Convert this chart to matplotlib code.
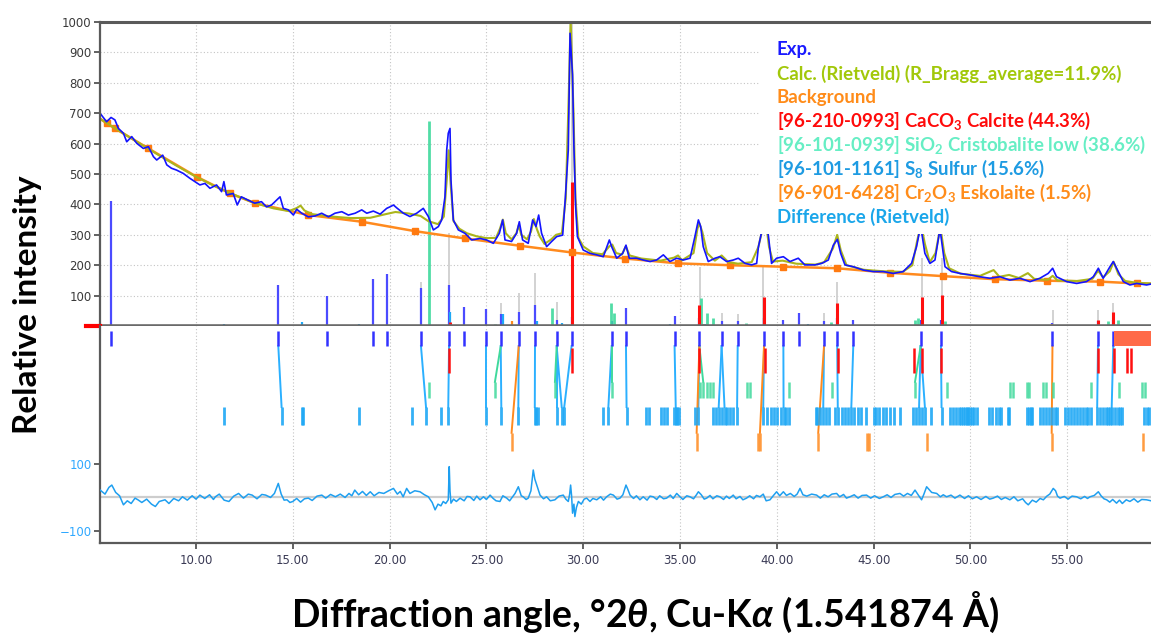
import numpy as np
import matplotlib.pyplot as plt
from matplotlib.patches import Rectangle

plt.rcParams['font.family'] = ['DejaVu Sans']
plt.rcParams['mathtext.fontset'] = 'custom'
plt.rcParams['mathtext.rm'] = 'Lato:bold'
plt.rcParams['mathtext.it'] = 'Lato:italic:bold'
plt.rcParams['mathtext.bf'] = 'Lato:bold'
LABEL_FONT = ['Lato', 'DejaVu Sans']

exp_2theta = [5.04, 5.38, 5.61, 5.81, 5.99, 6.25, 6.42, 6.68, 6.94, 7.28, 7.54, 7.80, 7.97,
              8.28, 8.49, 8.73, 8.99, 9.34, 9.68, 9.94, 10.20, 10.46, 10.72, 11.06, 11.32,
              11.44, 11.57, 11.92, 12.13, 12.34, 12.69, 13.03, 13.38, 13.64, 13.90, 14.16,
              14.34, 14.51, 14.77, 15.03, 15.20, 15.46, 15.80, 16.15, 16.49, 16.84, 17.18,
              17.53, 17.87, 18.22, 18.56, 18.82, 19.16, 19.51, 19.85, 20.02, 20.20, 20.36,
              20.71, 21.05, 21.40, 21.74, 22.00, 22.26, 22.52, 22.69, 22.86, 22.95, 23.03,
              23.12, 23.17, 23.29, 23.55, 23.89, 24.24, 24.67, 25.01, 25.36, 25.67, 25.84,
              25.96, 26.30, 26.56, 26.70, 26.87, 27.16, 27.39, 27.56, 27.70, 27.85, 28.11,
              28.37, 28.63, 28.94, 29.08, 29.23, 29.32, 29.45, 29.52, 29.61, 29.70, 30.00,
              30.35, 30.70, 31.04, 31.35, 31.47, 31.73, 32.04, 32.21, 32.38, 32.76, 33.10,
              33.45, 33.79, 34.14, 34.48, 34.83, 35.17, 35.52, 35.77, 35.95, 36.07, 36.20,
              36.46, 36.81, 37.06, 37.41, 37.75, 38.01, 38.36, 38.70, 38.96, 39.05, 39.22,
              39.39, 39.56, 39.73, 39.99, 40.34, 40.68, 41.11, 41.45, 41.97, 42.32, 42.66,
              42.92, 43.13, 43.30, 43.52, 43.95, 44.47, 44.98, 45.50, 46.02, 46.53, 46.96,
              47.22, 47.43, 47.65, 47.91, 48.17, 48.43, 48.69, 49.03, 49.46, 49.98, 50.49,
              51.01, 51.53, 52.04, 52.56, 53.08, 53.59, 54.02, 54.25, 54.45, 54.97, 55.49,
              56.00, 56.35, 56.61, 56.86, 57.21, 57.38, 57.64, 57.90, 58.24, 58.59, 59.10,
              59.33]
exp_counts = [700, 672, 686, 678, 650, 634, 606, 623, 601, 584, 590, 557, 546,
              562, 530, 519, 513, 502, 486, 475, 464, 469, 453, 464, 442,
              475, 431, 436, 398, 425, 414, 404, 409, 392, 398, 414,
              425, 387, 382, 365, 384, 371, 359, 362, 371, 359, 371,
              376, 365, 371, 382, 371, 378, 368, 387, 392, 398, 389,
              371, 360, 371, 387, 360, 316, 327, 349, 425, 579, 634,
              650, 480, 349, 316, 305, 283, 288, 283, 272, 305, 349,
              283, 278, 305, 343, 283, 272, 349, 327, 365, 305, 261,
              278, 294, 299, 425, 579, 963, 826, 590, 392, 294, 250,
              239, 234, 228, 283, 261, 223, 239, 266, 223, 223, 217,
              212, 217, 234, 212, 223, 217, 223, 294, 349, 327, 261,
              212, 223, 228, 212, 217, 223, 206, 201, 206, 260, 310,
              335, 300, 206, 223, 228, 212, 223, 201, 201, 206, 217,
              266, 285, 239, 201, 195, 184, 179, 179, 173, 179, 206,
              261, 330, 239, 206, 217, 320, 195, 179, 173, 168, 162,
              157, 162, 151, 157, 146, 157, 173, 190, 162, 146, 140,
              146, 162, 190, 157, 195, 212, 179, 146, 135, 140, 135,
              138]

calc_2theta = [5.04, 6.0, 7.0, 8.0, 9.0, 10.0, 11.0, 12.0, 13.0, 14.0, 14.8, 15.2, 15.4, 15.6,
               16.0, 17.0, 18.0, 19.0, 19.8, 20.3, 21.0, 21.6, 22.0, 22.5, 22.8, 22.95, 23.05,
               23.15, 23.3, 23.6, 24.0, 24.5, 25.0, 25.5, 25.7, 25.85, 26.0, 26.3, 26.55, 26.67,
               26.8, 27.1, 27.3, 27.45, 27.6, 27.75, 28.0, 28.35, 28.6, 28.9, 29.1, 29.25, 29.35,
               29.5, 29.6, 29.75, 30.0, 30.5, 31.0, 31.35, 31.5, 31.7, 32.0, 32.2, 32.4, 33.0,
               34.0, 34.7, 34.9, 35.1, 35.7, 35.9, 36.0, 36.15, 36.4, 36.8, 37.15, 37.5, 38.0,
               38.7, 39.05, 39.3, 39.45, 39.6, 39.8, 40.3, 41.0, 42.0, 42.45, 42.9, 43.12, 43.3,
               43.6, 44.5, 45.5, 46.5, 47.0, 47.25, 47.45, 47.65, 47.9, 48.2, 48.45, 48.65, 48.9,
               49.5, 50.5, 51.2, 51.5, 52.0, 52.5, 52.97, 53.3, 54.0, 54.25, 54.5, 55.5, 56.3,
               56.6, 56.85, 57.2, 57.4, 57.65, 58.0, 58.6, 59.33]
calc_counts = [682, 643, 604, 565, 527, 491, 459, 431, 405, 387, 378, 388, 396, 380,
               368, 360, 355, 356, 368, 375, 370, 362, 345, 335, 360, 480, 578,
               470, 345, 320, 305, 295, 289, 290, 320, 350, 305, 285, 305, 332,
               300, 285, 310, 352, 320, 295, 270, 285, 300, 305, 420, 750, 1010,
               700, 420, 290, 262, 240, 236, 262, 268, 240, 235, 262, 232, 222,
               215, 225, 232, 216, 240, 320, 338, 310, 240, 215, 232, 210, 205,
               210, 260, 330, 335, 260, 212, 215, 205, 202, 210, 255, 300, 250,
               200, 185, 180, 178, 200, 280, 335, 270, 210, 240, 325, 240, 190,
               172, 165, 184, 162, 168, 158, 174, 155, 152, 165, 150, 148, 155,
               182, 160, 180, 211, 170, 148, 142, 140]

# background anchor points
bg_2theta = [5.04, 5.38, 5.81, 7.54, 10.03, 11.76, 13.05, 15.80, 18.56, 21.31, 23.89, 26.73,
             29.40, 32.16, 34.91, 37.58, 40.33, 43.09, 45.85, 48.60, 51.27, 53.94, 56.69,
             58.59, 59.33]
bg_counts = [682, 667, 650, 584, 491, 436, 404, 365, 343, 312, 288, 264,
             242, 222, 206, 200, 195, 190, 175, 164, 154, 149, 146, 140, 139]
bg_marker_idx = list(range(1, 24))

# difference (Rietveld) curve
diff_2theta = [5.05, 5.3, 5.5, 5.65, 5.85, 6.05, 6.25, 6.45, 6.65, 6.85, 7.0, 7.2, 7.45, 7.7,
               7.9, 8.1, 8.4, 8.6, 8.85, 9.1, 9.3, 9.55, 9.8, 10.0, 10.2, 10.45, 10.7, 10.9,
               11.0, 11.2, 11.45, 11.7, 11.95, 12.2, 12.45, 12.7, 12.9, 13.15, 13.4, 13.6,
               13.85, 14.05, 14.25, 14.4, 14.55, 14.7, 14.85, 15.0, 15.2, 15.4, 15.6, 15.8,
               16.0, 16.25, 16.5, 16.7, 16.95, 17.2, 17.45, 17.7, 17.9, 18.05, 18.2, 18.4,
               18.6, 18.8, 19.0, 19.2, 19.45, 19.7, 19.95, 20.2, 20.4, 20.55, 20.7, 20.88,
               21.05, 21.3, 21.57, 21.8, 22.0, 22.2, 22.35, 22.5, 22.65, 22.77, 22.9, 23.03,
               23.08, 23.12, 23.17, 23.3, 23.45, 23.64, 23.85, 24.0, 24.15, 24.35, 24.5, 24.67,
               24.85, 25.0, 25.19, 25.35, 25.5, 25.7, 25.85, 26.05, 26.2, 26.35, 26.48, 26.65,
               26.8, 26.9, 27.05, 27.16, 27.3, 27.42, 27.5, 27.6, 27.77, 27.95, 28.11, 28.3,
               28.54, 28.75, 28.97, 29.1, 29.23, 29.3, 29.35, 29.4, 29.45, 29.52, 29.57, 29.65,
               29.75, 29.9, 30.05, 30.18, 30.35, 30.5, 30.7, 30.9, 31.05, 31.21, 31.4, 31.56,
               31.75, 31.9, 32.05, 32.21, 32.3, 32.42, 32.6, 32.75, 32.93, 33.1, 33.3, 33.45,
               33.62, 33.8, 33.95, 34.15, 34.31, 34.5, 34.65, 34.83, 35.0, 35.15, 35.35, 35.52,
               35.7, 35.85, 35.95, 36.1, 36.25, 36.38, 36.55, 36.7, 36.9, 37.06, 37.25, 37.4,
               37.55, 37.75, 37.9, 38.1, 38.25, 38.44, 38.6, 38.8, 38.95, 39.13, 39.3, 39.45,
               39.65, 39.8, 39.99, 40.15, 40.34, 40.5, 40.7, 40.9, 41.05, 41.2, 41.35, 41.55,
               41.8, 42.06, 42.25, 42.45, 42.65, 42.85, 43.09, 43.25, 43.45, 43.6, 43.78, 44.0,
               44.2, 44.4, 44.64, 44.85, 45.05, 45.3, 45.5, 45.7, 45.9, 46.1, 46.36, 46.55,
               46.75, 46.95, 47.14, 47.3, 47.48, 47.6, 47.74, 47.85, 48.0, 48.26, 48.45, 48.6,
               48.77, 49.0, 49.2, 49.46, 49.7, 49.9, 50.1, 50.32, 50.55, 50.8, 51.0, 51.18,
               51.4, 51.6, 51.8, 52.04, 52.25, 52.45, 52.7, 52.85, 52.99, 53.2, 53.4, 53.6,
               53.77, 53.95, 54.1, 54.28, 54.4, 54.5, 54.63, 54.85, 55.05, 55.25, 55.49, 55.7,
               55.9, 56.05, 56.18, 56.4, 56.61, 56.75, 56.9, 57.04, 57.2, 57.35, 57.55, 57.7,
               57.85, 58.05, 58.24, 58.45, 58.65, 58.85, 59.1, 59.33]
diff_counts = [22, 10, 30, 37, 15, 5, -22, -10, -18, -2, -7, -15, -5, -20,
               -27, -12, -7, -18, -3, -10, 2, -8, 5, -5, 7, -3, 8, -6,
               2, 10, -8, -12, 4, 12, -2, 10, 7, -4, 9, 7,
               0, 12, 42, 10, -8, -7, -15, -12, -3, -14, -4, -2,
               -9, 4, 7, -2, 9, 2, 10, 0, 12, 5, 22, 8,
               18, 6, 17, 5, 15, 12, 20, 27, 10, 18, 2, 27,
               12, 20, 17, 8, 2, -15, -37, -20, -25, -12, -18, -7,
               92, 20, -17, -5, -12, -2, -10, 3, 2, -9, 4, -7,
               2, -6, 7, -3, -10, -12, 5, -2, -10, 2, 12, 32,
               5, 2, -6, -2, 20, 82, 55, 37, 7, -4, 2, -10,
               -7, 4, 7, -5, -12, 10, 37, 5, -47, -20, -57, -30,
               -12, -20, -5, -2, -12, -3, -7, 2, -8, 2, 10, 7,
               -5, -2, 8, 37, 25, 7, -3, 5, -7, 2, -8, 4,
               2, -6, 5, -4, -2, 7, -3, 12, 2, -6, 5, 2,
               -4, 8, 17, 8, -5, -2, 6, -4, 5, 2, -6, 4,
               -3, 7, -4, 3, -7, -2, 5, -4, 6, 2, 10, -10,
               -7, 4, 17, 5, 17, 6, 12, 3, 10, 27, 8, 4,
               10, 7, -2, 8, 2, 10, 12, 2, 9, -2, 2, 8,
               -2, 6, 7, -2, 5, -3, 2, 8, 0, 9, 12, 4,
               12, 6, 22, 8, -7, 10, 32, 25, 15, 12, 2, 8,
               2, 7, -2, 7, -3, 5, -4, 2, -6, 3, -5, -2,
               4, -6, 0, -7, 2, -10, -4, -15, -22, -8, -14, -3,
               -7, 4, 10, 27, 20, 4, -2, 3, -5, 4, 2, -4,
               3, -3, 2, 6, 17, 5, -4, -7, -14, -6, -17, -8,
               -18, -7, -12, -4, -14, -6, -7, -10]

# ─── PEAK STICKS (upper pane) ─────────────────────────────
peak_pos = [5.61, 14.25, 16.78, 19.12, 19.85, 21.62, 23.07, 23.84, 24.98, 25.74, 26.67, 27.51,
            28.63, 29.40, 31.47, 32.21, 34.72, 36.00, 37.15, 37.98, 39.34, 40.34, 41.16, 42.44,
            43.12, 43.95, 47.43, 48.48, 54.24, 56.59, 57.38]
peak_h = [410, 135, 99, 153, 171, 124, 135, 64, 55, 40, 47, 69,
          20, 30, 15, 58, 33, 25, 15, 18, 25, 20, 42, 15,
          25, 20, 20, 20, 10, 15, 20]

calc_stick_pos = [21.62, 23.07, 25.74, 26.67, 27.51, 28.63, 29.40, 36.03, 37.15, 37.98, 39.30,
                  42.44, 43.12, 47.48, 48.51, 54.28, 56.59, 57.38]
calc_stick_h = [146, 305, 75, 107, 173, 80, 1000, 195, 42, 38, 195,
                42, 146, 223, 223, 53, 53, 75]

calcite_stick_pos = [23.12, 29.40, 36.00, 39.34, 43.12, 47.48, 48.51, 56.60, 57.38]
calcite_stick_h = [14, 475, 69, 96, 75, 96, 102, 20, 47]

cristo_stick_pos = [22.05, 25.44, 28.40, 31.45, 31.60, 36.10, 36.40, 36.70, 38.40, 42.80,
                    47.14, 47.30, 48.70, 57.10, 57.60]
cristo_stick_h = [675, 8, 58, 75, 42, 91, 42, 25, 10, 12, 20, 25, 15, 15, 20]

sulfur_stick_pos = [11.44, 15.50, 18.42, 23.10, 25.85, 27.60, 28.90, 30.90, 34.50, 36.30, 41.60]
sulfur_stick_h = [5, 12, 5, 45, 40, 15, 10, 4, 5, 8, 5]

eskol_stick_pos = [26.30, 36.20, 54.20]
eskol_stick_h = [15, 8, 5]

# ─── PHASE MARKER ROWS (lower pane) ───────────────────────
calcite_marks = [23.07, 29.40, 36.00, 39.40, 43.15, 47.10, 47.50, 48.50, 56.60, 57.40, 58.10, 58.30]
cristo_marks = [22.05, 25.44, 28.54, 31.47, 36.03, 36.20, 36.37, 36.54, 36.70, 38.46, 38.60,
                40.63, 42.83, 47.14, 48.77, 52.04, 52.20, 52.90, 53.05, 53.76, 53.90, 54.28,
                56.25, 57.70, 58.85, 59.00]
sulfur_marks = [11.44, 14.42, 15.45, 15.53, 18.42, 21.14, 21.88, 22.64, 23.03, 24.98, 25.77,
                26.65, 27.50, 27.58, 27.66, 28.63, 28.89, 29.02, 31.00, 31.30, 32.24, 33.24,
                33.40, 34.00, 34.15, 34.33, 34.70, 34.78, 34.86, 34.94, 35.80, 35.95, 36.70,
                36.85, 37.00, 37.15, 37.30, 37.45, 37.60, 37.75, 37.95, 39.30, 39.50, 39.70,
                39.85, 40.00, 40.20, 40.35, 40.50, 40.65, 42.00, 42.10, 42.25, 42.40, 42.55,
                42.70, 43.00, 43.15, 43.35, 43.50, 43.70, 43.85, 44.00, 44.20, 44.35, 44.60,
                45.00, 45.15, 45.30, 45.50, 45.65, 45.85, 46.05, 46.35, 47.05, 47.20, 47.35,
                47.50, 47.65, 47.95, 48.51, 48.95, 49.10, 49.25, 49.40, 49.50, 49.60, 49.70,
                49.80, 49.90, 50.00, 50.10, 50.20, 50.35, 50.95, 51.10, 51.30, 51.50, 51.60,
                51.95, 52.00, 52.95, 53.05, 53.15, 53.20, 53.60, 53.75, 53.90, 54.05, 54.20,
                54.35, 54.45, 54.90, 55.05, 55.20, 55.35, 55.50, 55.65, 55.80, 55.95, 56.10,
                56.25, 56.55, 56.70, 56.85, 57.00, 57.10, 57.20, 57.30, 57.45, 57.60, 57.75,
                57.85, 58.95, 59.10, 59.25]
eskol_marks = [26.30, 35.86, 39.04, 39.13, 42.14, 44.64, 44.77, 47.74, 54.20, 58.90]

# experimental peak -> phase reflection links
sulfur_links = [(14.25, 14.42), (21.62, 21.88), (23.07, 23.03), (24.98, 24.98), (25.74, 25.77),
                (26.67, 26.65), (27.51, 27.50), (28.63, 28.63), (28.63, 28.89), (29.40, 29.02),
                (31.47, 31.30), (32.21, 32.24), (34.72, 34.78), (36.00, 35.95), (37.15, 37.00),
                (37.15, 37.30), (37.98, 37.95), (39.34, 39.30), (40.34, 40.35), (42.44, 42.40),
                (43.12, 43.15), (43.95, 43.85), (47.43, 47.35), (47.43, 47.65), (48.48, 48.51),
                (56.59, 56.55), (57.38, 57.30)]
cristo_links = [(25.74, 25.44), (28.63, 28.54), (31.47, 31.47), (36.00, 36.20), (47.43, 47.14)]
eskol_links = [(26.67, 26.30), (36.00, 35.86), (39.34, 39.13), (42.44, 42.14), (54.24, 54.20)]

legend_lines = [
    ('Exp.', '#1a1aff'),
    ('Calc. (Rietveld) (R_Bragg_average=11.9%)', '#a2c80a'),
    ('Background', '#ff8c1a'),
    ('[96-210-0993] CaCO$_3$ Calcite (44.3%)', '#ff0a0a'),
    ('[96-101-0939] SiO$_2$ Cristobalite low (38.6%)', '#66eec4'),
    ('[96-101-1161] S$_8$ Sulfur (15.6%)', '#1e9be2'),
    ('[96-901-6428] Cr$_2$O$_3$ Eskolaite (1.5%)', '#ff8c1a'),
    ('Difference (Rietveld)', '#1aa6ea'),
]

XMIN, XMAX = 5.04, 59.33
C_EXP = '#1414ff'
C_CALC = '#abb51c'
C_BG = '#ff8a1e'
C_RED = '#ff1010'
C_CRIS = '#3fd99c'
C_SULF = '#1ea8f5'
C_ESK = '#ff8a1e'
GRID = dict(color='#c4c4c4', lw=0.8, ls=(0, (1, 2)))

# ─── FIGURE ───────────────────────────────────────────────
fig = plt.figure(figsize=(11.51, 6.43), dpi=100)
ax = fig.add_axes([0.08688, 0.49300, 0.91312, 0.47278])
axd = fig.add_axes([0.08688, 0.15552, 0.91312, 0.33748], sharex=ax)

# upper pane
ax.set_xlim(XMIN, XMAX)
ax.set_ylim(0, 1000)
ax.set_xticks(np.arange(10, 60, 5))
ax.set_yticks(np.arange(100, 1001, 100))
ax.set_axisbelow(True)
ax.grid(True, **GRID)
ax.tick_params(axis='x', length=0, labelbottom=False)
ax.tick_params(axis='y', length=4, width=1.3, color='#555555', pad=2,
               labelsize=8.5, labelcolor='#3a3a3a')
ax.spines['right'].set_visible(False)
ax.spines['top'].set_linewidth(2.2)
ax.spines['top'].set_color('#5a5a5a')
ax.spines['left'].set_linewidth(1.6)
ax.spines['left'].set_color('#5a5a5a')
ax.spines['bottom'].set_linewidth(2.6)
ax.spines['bottom'].set_color('#6a6a6a')
for s in ax.spines.values():
    s.set_zorder(8)

ax.vlines(calc_stick_pos, 0, calc_stick_h, colors='#cfcfcf', lw=1.3, zorder=1.5)
ax.vlines(peak_pos, 0, peak_h, colors='#4b4bff', lw=1.6, zorder=2)
ax.vlines(sulfur_stick_pos, 0, sulfur_stick_h, colors=C_SULF, lw=1.6, zorder=2)
ax.vlines(eskol_stick_pos, 0, eskol_stick_h, colors=C_ESK, lw=1.6, zorder=2)
ax.vlines(cristo_stick_pos, 0, cristo_stick_h, colors=C_CRIS, lw=2.0, zorder=2, alpha=0.9)
ax.vlines(calcite_stick_pos, 0, calcite_stick_h, colors=C_RED, lw=2.2, zorder=2.2)

ax.plot(bg_2theta, bg_counts, color=C_BG, lw=1.8, zorder=3)
ax.plot([bg_2theta[i] for i in bg_marker_idx], [bg_counts[i] for i in bg_marker_idx],
        ls='none', marker='s', ms=5, color='#ff7a10', zorder=3.1)
ax.plot(calc_2theta, calc_counts, color=C_CALC, lw=1.5, zorder=3.2)
ax.plot(exp_2theta, exp_counts, color=C_EXP, lw=1.2, zorder=3.4)

# red zero marker left of the frame
ax.plot([-0.013, 0.0], [0, 0], transform=ax.get_yaxis_transform(), color='#ff0000',
        lw=3, clip_on=False, zorder=9)

# legend block (white panel covering grid and peak tops)
ax.add_patch(Rectangle((39.13, 303), XMAX - 39.13, 697, facecolor='white',
                       edgecolor='none', zorder=4))
for i, (txt, col) in enumerate(legend_lines):
    ax.text(40.0, 908 - i * 78.3, txt, color=col, fontsize=13.4, fontweight='bold',
            family=LABEL_FONT, va='center', ha='left', zorder=6)

# lower pane
axd.set_ylim(-136, 512)
axd.set_yticks([100, -100])
axd.set_xticks(np.arange(10, 60, 5))
axd.set_xticklabels([f'{v:.2f}' for v in np.arange(10, 60, 5)])
axd.grid(True, axis='x', **GRID)
axd.set_axisbelow(True)
axd.tick_params(axis='y', length=4, width=1.3, color='#555555', pad=2,
                labelsize=8.5, labelcolor='#2fa8ff')
axd.tick_params(axis='x', length=4, width=1.3, color='#555555', pad=4,
                labelsize=8.5, labelcolor='#3a3a55')
axd.spines['top'].set_visible(False)
axd.spines['right'].set_visible(False)
axd.spines['left'].set_linewidth(1.6)
axd.spines['left'].set_color('#5a5a5a')
axd.spines['bottom'].set_linewidth(1.6)
axd.spines['bottom'].set_color('#5a5a5a')

ROW_EXP = (452, 497)
ROW_CAL = (372, 446)
ROW_CRI = (297, 345)
ROW_SUL = (216, 270)
ROW_ESK = (139, 193)

for (p, q) in sulfur_links:
    axd.plot([p, q], [ROW_EXP[0], ROW_SUL[1]], color='#2bb0ff', lw=1.4, zorder=2)
for (p, q) in cristo_links:
    axd.plot([p, q], [ROW_EXP[0], ROW_CRI[1]], color=C_CRIS, lw=1.4, zorder=2.1)
for (p, q) in eskol_links:
    axd.plot([p, q], [ROW_EXP[0], ROW_ESK[1]], color=C_ESK, lw=1.4, zorder=2.2)

axd.vlines(peak_pos, *ROW_EXP, colors='#3232ff', lw=1.8, zorder=3)
axd.vlines(calcite_marks, *ROW_CAL, colors=C_RED, lw=1.8, zorder=3)
axd.vlines(cristo_marks, *ROW_CRI, colors=C_CRIS, lw=1.8, zorder=3, alpha=0.85)
axd.vlines(sulfur_marks, *ROW_SUL, colors=C_SULF, lw=2.0, zorder=3, alpha=0.9)
axd.vlines(eskol_marks, *ROW_ESK, colors=C_ESK, lw=1.8, zorder=3, alpha=0.85)
axd.add_patch(Rectangle((57.4, ROW_EXP[0]), XMAX - 57.4, ROW_EXP[1] - ROW_EXP[0],
                        facecolor='#ff6a48', edgecolor='none', zorder=3.5))

axd.axhline(0, color='#cdcdcd', lw=1.6, zorder=1)
axd.plot(diff_2theta, diff_counts, color='#1e9ff0', lw=1.1, zorder=4)

# axis titles
fig.text(0.0243, 0.5257, 'Relative intensity', rotation=90, ha='center', va='center',
         fontsize=24, fontweight='bold', family=LABEL_FONT)
fig.text(0.5604, 0.048, r'Diffraction angle, °2$\theta$, Cu-K$\alpha$ (1.541874 Å)',
         ha='center', va='center', fontsize=27, fontweight='bold', family=LABEL_FONT)

fig.savefig('out.png', dpi=100)
